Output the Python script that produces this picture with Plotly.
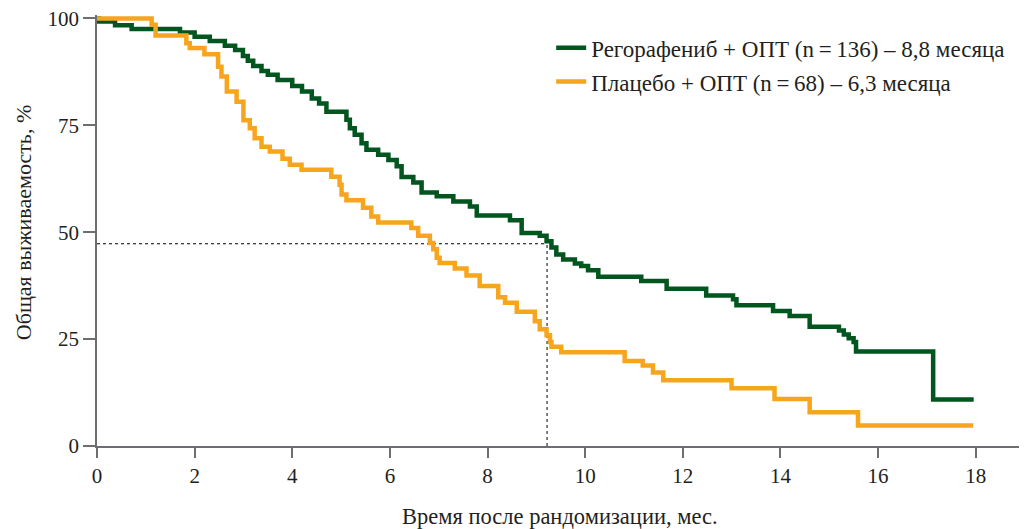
import plotly.graph_objects as go

# Regorafenib + BSC (Kaplan-Meier): event times (months) and survival (%) after each event
rego_t = [0, 0.04, 0.37, 0.71, 1.70, 2.00, 2.31, 2.62, 2.83, 2.99, 3.09, 3.20, 3.37, 3.50,
          3.70, 4.00, 4.20, 4.40, 4.55, 4.70, 5.11, 5.18, 5.28, 5.42, 5.52, 5.76, 5.97,
          6.14, 6.24, 6.48, 6.65, 6.96, 7.30, 7.64, 7.78, 8.46, 8.70, 9.07, 9.21, 9.31,
          9.41, 9.55, 9.79, 9.92, 10.06, 10.27, 11.15, 11.67, 12.48, 13.03, 13.10, 13.85,
          14.19, 14.60, 15.20, 15.30, 15.40, 15.50, 15.55, 17.13, 17.96]
rego_s = [100, 99.3, 98.4, 97.5, 96.7, 95.7, 94.7, 93.6, 92.6, 91.2, 90.1, 88.9, 87.7, 86.8,
          85.6, 84.2, 82.9, 81.3, 80.1, 78.2, 76.3, 74.3, 72.8, 70.8, 69.3, 68.1, 66.9,
          65.4, 62.9, 61.6, 59.3, 58.4, 57.2, 56.0, 53.9, 52.8, 49.8, 49.2, 47.9, 46.4,
          44.8, 43.6, 42.7, 42.1, 41.1, 39.6, 38.6, 36.8, 35.2, 34.3, 32.9, 31.6,
          30.4, 27.9, 27.0, 26.1, 25.2, 24.3, 22.1, 10.9, 10.9]

# Placebo + BSC
plac_t = [0, 1.12, 1.20, 1.83, 1.90, 2.20, 2.48, 2.55, 2.66, 2.86, 3.00, 3.13, 3.23, 3.37,
          3.54, 3.80, 3.95, 4.19, 4.80, 4.97, 5.01, 5.11, 5.45, 5.62, 5.76, 6.44, 6.58,
          6.82, 6.89, 6.96, 7.02, 7.33, 7.57, 7.84, 8.22, 8.36, 8.60, 8.97, 9.07, 9.21,
          9.28, 9.31, 9.51, 10.81, 11.18, 11.39, 11.60, 13.00, 13.88, 14.60, 15.59, 17.95]
plac_s = [100, 98.5, 96.0, 94.2, 93.1, 91.6, 88.7, 86.4, 82.9, 80.5, 76.2, 74.3, 72.0, 70.0,
          68.9, 67.2, 65.8, 64.6, 63.0, 61.1, 58.8, 57.5, 55.7, 53.7, 52.3, 51.0, 49.2,
          47.5, 46.0, 44.0, 42.8, 41.5, 39.9, 37.4, 34.8, 33.5, 31.4, 29.2, 27.3, 25.9,
          24.3, 23.2, 21.9, 19.9, 18.8, 17.2, 15.4, 13.5, 11.0, 7.9, 4.8, 4.8]

median_t = 9.22
median_s = 47.3

x_ticks = [0, 2, 4, 6, 8, 10, 12, 14, 16, 18]
y_ticks = [0, 25, 50, 75, 100]

rego_name = "Регорафениб + ОПТ (n\u2009=\u2009136) – 8,8 месяца"
plac_name = "Плацебо + ОПТ (n\u2009=\u200968) – 6,3 месяца"
x_title = "Время после рандомизации, мес."
y_title = "Общая выживаемость, %"

GREEN = "#00561e"
ORANGE = "#f8a51e"
FONT = "Liberation Serif"
AXIS = "#6d6e71"
TEXT = "#231f20"

fig = go.Figure()
fig.add_trace(go.Scatter(x=rego_t, y=rego_s, mode="lines", line_shape="hv",
                         line=dict(color=GREEN, width=4.5), name=rego_name,
                         legendgroup="a"))
fig.add_trace(go.Scatter(x=plac_t, y=plac_s, mode="lines", line_shape="hv",
                         line=dict(color=ORANGE, width=4.5), name=plac_name,
                         legendgroup="b"))

fig.add_shape(type="line", xref="x", yref="y", x0=0, x1=median_t, y0=median_s, y1=median_s,
              line=dict(color="black", width=1, dash="dot"), layer="below")
fig.add_shape(type="line", xref="x", yref="y", x0=median_t, x1=median_t, y0=0, y1=median_s,
              line=dict(color="black", width=1, dash="dot"), layer="below")

fig.add_annotation(text=x_title, xref="paper", yref="paper", x=0.5, y=0,
                   xanchor="center", yanchor="middle", yshift=-70, showarrow=False,
                   font=dict(size=22.5, family=FONT, color=TEXT))
fig.add_annotation(text=y_title, xref="paper", yref="paper", x=0, y=0.517,
                   xanchor="center", yanchor="middle", xshift=-74, textangle=-90,
                   showarrow=False, font=dict(size=22, family=FONT, color=TEXT))

# page body has an 8px default margin, so the figure is sized to fit the window
fig.update_layout(
    width=1019, height=521,
    margin=dict(l=89, r=5, t=7, b=83),
    paper_bgcolor="white", plot_bgcolor="white",
    font=dict(family=FONT, size=20, color=TEXT),
    showlegend=True,
    legend=dict(x=0.491, y=0.974, xanchor="left", yanchor="top",
                bgcolor="rgba(0,0,0,0)", font=dict(size=23, family=FONT, color=TEXT),
                tracegroupgap=1, traceorder="grouped"),
    xaxis=dict(range=[0, 18.95], tickvals=x_ticks, ticks="outside", ticklen=10,
               tickcolor=AXIS, tickwidth=1.5, showline=True, linecolor=AXIS, linewidth=1.5,
               showgrid=False, zeroline=False, automargin=False,
               ticklabeloverflow="allow",
               tickfont=dict(size=21, family=FONT, color=TEXT)),
    yaxis=dict(range=[0, 100.8], tickvals=y_ticks, ticks="outside", ticklen=12,
               tickcolor=AXIS, tickwidth=1.5, showline=True, linecolor=AXIS, linewidth=1.5,
               showgrid=False, zeroline=False, automargin=False,
               ticklabeloverflow="allow",
               tickfont=dict(size=21, family=FONT, color=TEXT)),
)

fig.write_html("out.html")
